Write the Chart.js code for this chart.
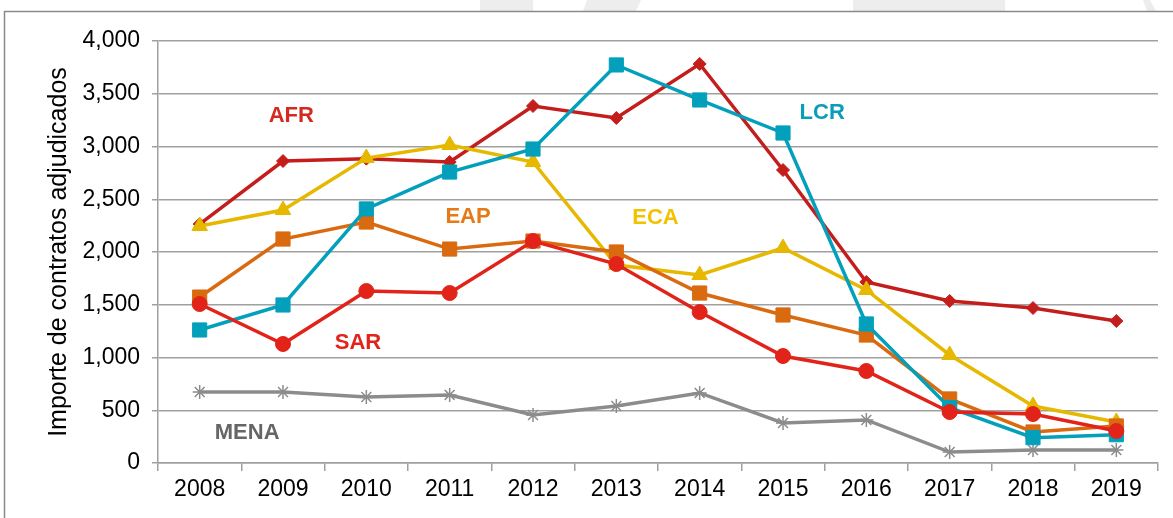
<!DOCTYPE html>
<html>
<head>
<meta charset="utf-8">
<script src="https://cdn.jsdelivr.net/npm/chart.js@4/dist/chart.umd.min.js"></script>
<style>
  html, body { margin: 0; padding: 0; background: #fff; }
  #wrap { width: 1173px; height: 518px; position: relative; }
</style>
</head>
<body>
<div id="wrap"><canvas id="line"></canvas></div>
<script>
// values
const years = ['2008','2009','2010','2011','2012','2013','2014','2015','2016','2017','2018','2019'];
const afr  = [2265, 2862, 2885, 2853, 3384, 3270, 3782, 2777, 1716, 1536, 1469, 1346];
const lcr  = [1261, 1498, 2408, 2758, 2976, 3773, 3441, 3128, 1318, 525, 240, 268];
const eca  = [2246, 2398, 2890, 3014, 2853, 1877, 1782, 2038, 1640, 1024, 540, 389];
const eap  = [1573, 2123, 2284, 2028, 2104, 2000, 1611, 1403, 1213, 607, 294, 351];
const sar  = [1507, 1128, 1630, 1611, 2104, 1886, 1431, 1014, 872, 483, 464, 303];
const mena = [673, 673, 626, 645, 455, 540, 664, 379, 408, 104, 123, 123];

const FONT = '"Liberation Sans", Arial, sans-serif';

// region names written inside the plot
const regionLabels = [
	{ text: 'AFR',  x: 1.1,  y: 3290, color: '#D42A1F' },
	{ text: 'LCR',  x: 7.47, y: 3320, color: '#0A9DB8' },
	{ text: 'EAP',  x: 3.22, y: 2330, color: '#E57A17' },
	{ text: 'ECA',  x: 5.47, y: 2320, color: '#F2C200' },
	{ text: 'SAR',  x: 1.9,  y: 1140, color: '#E2231A' },
	{ text: 'MENA', x: 0.57, y: 285,  color: '#666666' }
];

const frame = {
	id: 'frame',
	beforeDraw(chart) {
		const c = chart.ctx;
		c.save();
		c.fillStyle = '#EDEDED';
		c.fillRect(480, 0, 53, 11);
		c.beginPath(); c.moveTo(587, 0); c.lineTo(641, 0); c.lineTo(636, 11); c.lineTo(583, 11); c.fill();
		c.fillRect(853, 0, 152, 11);
		c.beginPath(); c.moveTo(1143, 0); c.lineTo(1150, 0); c.lineTo(1156, 11); c.lineTo(1147, 11); c.fill();
		c.strokeStyle = '#8A8A8A';
		c.lineWidth = 1.5;
		c.beginPath();
		c.moveTo(4.5, 518); c.lineTo(4.5, 11.5); c.lineTo(1173, 11.5);
		c.stroke();
		c.restore();
	},
	afterDatasetsDraw(chart) {
		const c = chart.ctx;
		const xs = chart.scales.x, ys = chart.scales.y;
		c.save();
		c.font = 'bold 22px ' + FONT;
		c.textAlign = 'center';
		c.textBaseline = 'middle';
		regionLabels.forEach(l => {
			c.fillStyle = l.color;
			c.fillText(l.text, xs.getPixelForValue(l.x), ys.getPixelForValue(l.y));
		});
		c.restore();
	}
};

function series(label, data, color, style, radius) {
	return {
		label: label,
		data: data,
		borderColor: color,
		backgroundColor: color,
		borderWidth: 3.5,
		pointStyle: style,
		pointRadius: radius,
		pointHoverRadius: radius,
		pointBorderWidth: style === 'star' ? 1.5 : 1,
		pointBorderColor: color,
		pointBackgroundColor: color,
		tension: 0
	};
}

const ctx = document.getElementById('line').getContext('2d');
const line = new Chart(ctx, {
	type: 'line',
	data: {
		labels: years,
		datasets: [
			series('SAR', sar, '#E2231A', 'circle', 7.5),
			series('LCR', lcr, '#03A0BC', 'rect', 10),
			series('EAP', eap, '#D96A0F', 'rect', 10),
			series('ECA', eca, '#E6B800', 'triangle', 9),
			series('AFR', afr, '#C41E1C', 'rectRot', 6.5),
			series('MENA', mena, '#8C8C8C', 'star', 7)
		]
	},
	options: {
		responsive: true,
		maintainAspectRatio: false,
		animation: false,
		layout: { padding: { left: 44, right: 15, top: 41, bottom: 0 } },
		plugins: {
			legend: { display: false },
			tooltip: { enabled: false }
		},
		scales: {
			x: {
				offset: true,
				grid: {
					offset: true,
					drawOnChartArea: false,
					drawTicks: true,
					tickLength: 8,
					color: '#A0A0A0',
					lineWidth: 1.5
				},
				border: { color: '#A0A0A0', width: 1.5 },
				ticks: { color: '#000', font: { family: FONT, size: 23 }, padding: 5 },
				afterFit(scale) { scale.height = 55; }
			},
			y: {
				min: 0,
				max: 4000,
				ticks: {
					stepSize: 500,
					color: '#000',
					padding: 12,
					font: { family: FONT, size: 23 },
					callback: v => v.toLocaleString('en-US')
				},
				grid: { color: '#A0A0A0', lineWidth: 1.5, tickLength: 6 },
				border: { color: '#A0A0A0', width: 1.5 },
				title: {
					display: true,
					text: 'Importe de contratos adjudicados',
					color: '#000',
					font: { family: FONT, size: 25 },
					padding: 0
				},
				afterFit(scale) { scale.width = 114; }
			}
		}
	},
	plugins: [frame]
});
</script>
</body>
</html>
